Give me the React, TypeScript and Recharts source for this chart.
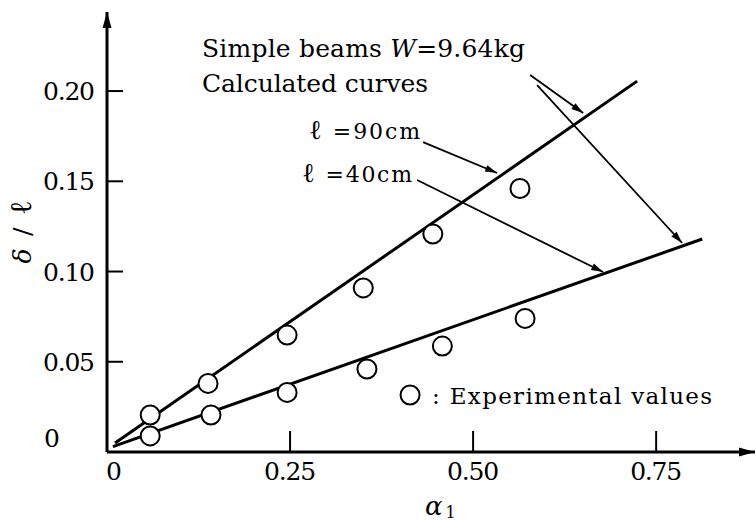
import React from "react";
import {
  ComposedChart,
  XAxis,
  YAxis,
  Line,
  Scatter,
  ReferenceDot,
  ReferenceLine,
} from "recharts";

if (typeof document !== "undefined") document.body.style.margin = "0";

// only DejaVu Serif resolves as a serif face here
const serif = { fontFamily: "'DejaVu Serif', serif" };

// axis ranges / ticks
const X_MAX = 0.885;
const Y_MAX = 0.2438;
const xTicks = [0, 0.25, 0.5, 0.75];
const xTickLabels = ["0", "0.25", "0.50", "0.75"];
const yTicks = [0, 0.05, 0.1, 0.15, 0.2];
const yTickLabels = ["0", "0.05", "0.10", "0.15", "0.20"];

// calculated curves (straight lines)
const calc90 = [
  { x: 0.011, y: 0.005 },
  { x: 0.724, y: 0.2055 },
];
const calc40 = [
  { x: 0.008, y: 0.003 },
  { x: 0.813, y: 0.118 },
];

// experimental values
const exp90X = [0.059, 0.138, 0.246, 0.35, 0.445, 0.564];
const exp90Y = [0.0205, 0.038, 0.0648, 0.0909, 0.1208, 0.146];
const exp40X = [0.059, 0.142, 0.246, 0.355, 0.458, 0.571];
const exp40Y = [0.0089, 0.0205, 0.033, 0.046, 0.0587, 0.074];

const exp90 = exp90X.map((x, i) => ({ x, y: exp90Y[i] }));
const exp40 = exp40X.map((x, i) => ({ x, y: exp40Y[i] }));

// annotation leaders (data coords): [from, to]
const leaders = [
  [{ x: 0.4317, y: 0.1717 }, { x: 0.5328, y: 0.1546 }],
  [{ x: 0.4235, y: 0.1507 }, { x: 0.6776, y: 0.0997 }],
  [{ x: 0.5779, y: 0.2089 }, { x: 0.6503, y: 0.1878 }],
  [{ x: 0.5874, y: 0.2033 }, { x: 0.7855, y: 0.1158 }],
];

const circleShape = (p: any) => (
  <circle cx={p.cx} cy={p.cy} r={9.5} fill="#fff" stroke="#000" strokeWidth={2} />
);

const arrowShape = (p: any) => {
  const { x1, y1, x2, y2 } = p;
  const a = Math.atan2(y2 - y1, x2 - x1);
  const L = 12;
  const W = 3.5;
  const bx = x2 - L * Math.cos(a);
  const by = y2 - L * Math.sin(a);
  const nx = -Math.sin(a) * W;
  const ny = Math.cos(a) * W;
  return (
    <g>
      <line x1={x1} y1={y1} x2={x2} y2={y2} stroke="#000" strokeWidth={1.8} />
      <polygon points={`${x2},${y2} ${bx + nx},${by + ny} ${bx - nx},${by - ny}`} fill="#000" />
    </g>
  );
};

const XTick = (p: any) => {
  const { x, y, payload } = p;
  const v = payload.value;
  const label = xTickLabels[xTicks.indexOf(v)];
  return (
    <g>
      {v !== 0 && <line x1={x} x2={x} y1={y} y2={y - 21} stroke="#000" strokeWidth={2} />}
      <text
        x={v === 0 ? x + 7 : x}
        y={y + 28}
        textAnchor="middle"
        style={serif}
        fontSize={25}
        textLength={v === 0 ? undefined : 52}
        lengthAdjust="spacing"
      >
        {label}
      </text>
    </g>
  );
};

const YTick = (p: any) => {
  const { x, y, payload } = p;
  const v = payload.value;
  const label = yTickLabels[yTicks.indexOf(v)];
  if (v === 0) {
    return (
      <text x={x - 55} y={y - 5} textAnchor="middle" style={serif} fontSize={25}>
        {label}
      </text>
    );
  }
  return (
    <g>
      <line x1={x} x2={x + 16} y1={y} y2={y} stroke="#000" strokeWidth={2} />
      <text
        x={x - 12}
        y={y + 9}
        textAnchor="end"
        style={serif}
        fontSize={25}
        textLength={52}
        lengthAdjust="spacing"
      >
        {label}
      </text>
    </g>
  );
};

const XLabel = (p: any) => {
  const vb = p.viewBox;
  const cx = vb.x + 318;
  return (
    <text x={cx} y={vb.y + 63} style={serif} fontSize={26} fontStyle="italic">
      α<tspan fontSize={16} fontStyle="normal" dx={3} dy={3}>1</tspan>
    </text>
  );
};

const YLabel = (p: any) => {
  const vb = p.viewBox;
  const cx = 31;
  const cy = vb.y + vb.height / 2;
  return (
    <text
      x={cx}
      y={cy}
      transform={`rotate(-90, ${cx}, ${cy})`}
      textAnchor="middle"
      style={serif}
      fontSize={25}
      textLength={63}
      lengthAdjust="spacing"
    >
      <tspan fontStyle="italic">δ</tspan> / <tspan fontSize={30}>ℓ</tspan>
    </text>
  );
};

const titleShape = (p: any) => (
  <g style={serif} fill="#000">
    <text x={p.cx} y={p.cy} fontSize={25} textLength={323} lengthAdjust="spacing">
      Simple beams <tspan fontStyle="italic">W</tspan>=9.64kg
    </text>
    <text x={p.cx} y={p.cy + 35} fontSize={25} textLength={226} lengthAdjust="spacing">
      Calculated curves
    </text>
  </g>
);

const lenLabel = (num: string, w: number) => (p: any) => (
  <text x={p.cx} y={p.cy} style={serif} fontSize={22} textLength={w} lengthAdjust="spacing">
    <tspan fontSize={27}>ℓ</tspan> ={num}cm
  </text>
);

const legendShape = (p: any) => (
  <g style={serif}>
    <circle cx={p.cx} cy={p.cy} r={9.5} fill="#fff" stroke="#000" strokeWidth={2} />
    <text x={p.cx + 22} y={p.cy + 9} fontSize={23} textLength={280} lengthAdjust="spacing">
      : Experimental values
    </text>
  </g>
);

const xArrow = (p: any) => (
  <polygon points={`${p.cx},${p.cy} ${p.cx - 16},${p.cy - 4.5} ${p.cx - 16},${p.cy + 4.5}`} fill="#000" />
);
const yArrow = (p: any) => (
  <polygon points={`${p.cx},${p.cy} ${p.cx - 4.5},${p.cy + 16} ${p.cx + 4.5},${p.cy + 16}`} fill="#000" />
);

export default function App() {
  return (
    <div style={{ width: 756, height: 521, background: "#fff" }}>
      <ComposedChart width={756} height={521} margin={{ top: 12, right: 1, bottom: 0, left: 0 }}>
        <XAxis
          type="number"
          dataKey="x"
          domain={[0, X_MAX]}
          ticks={xTicks}
          height={69}
          axisLine={{ stroke: "#000", strokeWidth: 3 }}
          tickLine={false}
          tickSize={0}
          tickMargin={0}
          tick={XTick}
          allowDataOverflow
          interval={0}
          label={XLabel}
        />
        <YAxis
          type="number"
          dataKey="y"
          domain={[0, Y_MAX]}
          ticks={yTicks}
          width={107}
          axisLine={{ stroke: "#000", strokeWidth: 3 }}
          tickLine={false}
          tickSize={0}
          tickMargin={0}
          tick={YTick}
          allowDataOverflow
          interval={0}
          label={YLabel}
        />
        <Line data={calc90} dataKey="y" type="linear" stroke="#000" strokeWidth={3} dot={false} isAnimationActive={false} />
        <Line data={calc40} dataKey="y" type="linear" stroke="#000" strokeWidth={3} dot={false} isAnimationActive={false} />
        {leaders.map((s, i) => (
          <ReferenceLine key={i} segment={s} shape={arrowShape} ifOverflow="visible" />
        ))}
        <Scatter data={exp90} shape={circleShape} isAnimationActive={false} />
        <Scatter data={exp40} shape={circleShape} isAnimationActive={false} />
        <ReferenceDot x={0.1298} y={0.2188} shape={titleShape} ifOverflow="visible" />
        <ReferenceDot x={0.276} y={0.1734} shape={lenLabel("90", 111)} ifOverflow="visible" />
        <ReferenceDot x={0.2664} y={0.1496} shape={lenLabel("40", 110)} ifOverflow="visible" />
        <ReferenceDot x={0.4139} y={0.0316} shape={legendShape} ifOverflow="visible" />
        <ReferenceDot x={X_MAX} y={0} shape={xArrow} ifOverflow="visible" />
        <ReferenceDot x={0} y={Y_MAX} shape={yArrow} ifOverflow="visible" />
      </ComposedChart>
    </div>
  );
}
